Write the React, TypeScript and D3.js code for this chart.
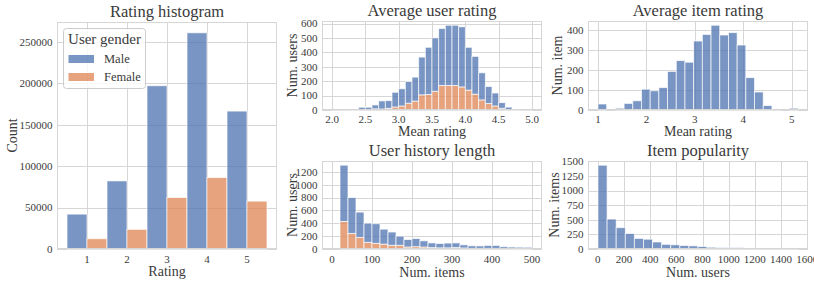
import React from 'react';
import * as d3 from 'd3';

// ---------- data ----------
const ratingCategories = [1, 2, 3, 4, 5];
const ratingMale = [42100, 82200, 197100, 261000, 166500];
const ratingFemale = [12400, 23700, 62100, 86200, 57800];

// Average user rating: 30 bins of width 0.1 from 2.0 to 5.0
const userRatingStart = 2.0;
const userRatingWidth = 0.1;
const userRatingMale = [1, 1, 1, 6, 16, 15, 27, 56, 53, 102, 119, 151, 166, 262, 327, 370, 395, 418, 418, 417, 297, 262, 188, 118, 90, 39, 16, 4, 2, 1];
const userRatingFemale = [0, 0, 0, 1, 3, 4, 8, 7, 12, 21, 28, 47, 62, 105, 108, 130, 170, 170, 170, 160, 138, 110, 70, 45, 28, 12, 4, 1, 0, 0];

// Average item rating: 23 bins from 1.0 to 5.13
const itemRatingStart = 1.0;
const itemRatingEnd = 5.13;
const itemRatingCounts = [30, 0, 9, 33, 46, 104, 96, 112, 193, 247, 239, 345, 378, 424, 375, 387, 325, 162, 90, 22, 1, 0, 9];

// User history length: bins of 20 from 0 to 500
const historyStart = 0;
const historyWidth = 20;
const historyMale = [0, 876, 556, 392, 298, 304, 233, 206, 142, 116, 126, 96, 73, 67, 74, 73, 49, 40, 38, 46, 46, 28, 25, 23, 22];
const historyFemale = [0, 428, 243, 182, 104, 89, 76, 58, 58, 31, 36, 31, 22, 18, 18, 22, 16, 10, 10, 10, 10, 7, 5, 5, 5];

// Item popularity: 22 bins from 1 to 1530
const popStart = 1;
const popEnd = 1530;
const popCounts = [1435, 512, 365, 264, 182, 168, 120, 80, 72, 60, 54, 42, 30, 25, 24, 22, 16, 12, 3, 13, 2, 3];

const ratingTicksY = [0, 50000, 100000, 150000, 200000, 250000];
const userRatingTicksX = [2.0, 2.5, 3.0, 3.5, 4.0, 4.5, 5.0];
const userRatingTicksY = [0, 100, 200, 300, 400, 500, 600];
const itemRatingTicksX = [1, 2, 3, 4, 5];
const itemRatingTicksY = [0, 100, 200, 300, 400];
const historyTicksX = [0, 100, 200, 300, 400, 500];
const historyTicksY = [0, 200, 400, 600, 800, 1000, 1200];
const popTicksX = [0, 200, 400, 600, 800, 1000, 1200, 1400, 1600];
const popTicksY = [0, 250, 500, 750, 1000, 1250, 1500];

// ---------- style ----------
const FONT = '"Liberation Serif", "DejaVu Serif", serif';
const BLUE = '#4c72b0';
const ORANGE = '#dd8452';
const TEXT = '#3a3a3a';
const GRID = '#d6d6d6';

type Bar = { x0: number; x1: number; y0: number; y1: number; color: string };

type PanelProps = {
  l: number; r: number; t: number; b: number;
  xDomain: [number, number];
  yMax: number;
  xTicks: number[]; yTicks: number[];
  xFmt: (v: number) => string;
  title: string; xLabel: string; yLabel: string;
  titleY: number; xTickY: number; xLabelY: number; yLabelX: number;
  bars: Bar[];
  children?: React.ReactNode;
};

function Panel(p: PanelProps) {
  const x = d3.scaleLinear().domain(p.xDomain).range([p.l, p.r]);
  const y = d3.scaleLinear().domain([0, p.yMax]).range([p.b, p.t]);
  const cx = (p.l + p.r) / 2;
  const cy = (p.t + p.b) / 2;
  return (
    <g>
      {p.xTicks.map((v) => (
        <line key={'gx' + v} x1={Math.round(x(v)) + 0.5} x2={Math.round(x(v)) + 0.5} y1={p.t} y2={p.b} stroke={GRID} strokeWidth={1} />
      ))}
      {p.yTicks.map((v) => (
        <line key={'gy' + v} x1={p.l} x2={p.r} y1={Math.round(y(v)) + 0.5} y2={Math.round(y(v)) + 0.5} stroke={GRID} strokeWidth={1} />
      ))}
      {p.bars.filter((bb) => bb.y1 > bb.y0).map((bb, i) => (
        <rect key={'b' + i} x={x(bb.x0)} y={y(bb.y1)} width={x(bb.x1) - x(bb.x0)} height={y(bb.y0) - y(bb.y1)}
          fill={bb.color} fillOpacity={0.75} stroke="#ffffff" strokeOpacity={0.75} strokeWidth={0.9} />
      ))}
      <rect x={p.l + 0.5} y={p.t + 0.5} width={p.r - p.l - 1} height={p.b - p.t - 1} fill="none" stroke={GRID} strokeWidth={1} />
      {p.xTicks.map((v) => (
        <text key={'tx' + v} x={x(v)} y={p.xTickY} textAnchor="middle" fontSize={11} fill={TEXT}>{p.xFmt(v)}</text>
      ))}
      {p.yTicks.map((v) => (
        <text key={'ty' + v} x={p.l - 4.5} y={y(v)} dy="0.35em" textAnchor="end" fontSize={11} fill={TEXT}>{String(v)}</text>
      ))}
      <text x={cx} y={p.titleY} textAnchor="middle" fontSize={16.5} fill={TEXT}>{p.title}</text>
      <text x={cx} y={p.xLabelY} textAnchor="middle" fontSize={14} fill={TEXT}>{p.xLabel}</text>
      <text transform={`translate(${p.yLabelX},${cy}) rotate(-90)`} textAnchor="middle" fontSize={14} fill={TEXT}>{p.yLabel}</text>
      {p.children}
    </g>
  );
}

function stackedBins(start: number, width: number, lower: number[], upper: number[]): Bar[] {
  const out: Bar[] = [];
  lower.forEach((v, i) => {
    const x0 = start + i * width;
    out.push({ x0, x1: x0 + width, y0: 0, y1: v, color: ORANGE });
    out.push({ x0, x1: x0 + width, y0: v, y1: v + upper[i], color: BLUE });
  });
  return out;
}

function singleBins(start: number, width: number, vals: number[]): Bar[] {
  return vals.map((v, i) => ({ x0: start + i * width, x1: start + (i + 1) * width, y0: 0, y1: v, color: BLUE }));
}

function margin(a: number, b: number): [number, number] {
  const m = (b - a) * 0.05;
  return [a - m, b + m];
}

export default function App() {
  // panel 1
  const ratingBars: Bar[] = [];
  ratingCategories.forEach((c, i) => {
    ratingBars.push({ x0: c - 0.5, x1: c, y0: 0, y1: ratingMale[i], color: BLUE });
    ratingBars.push({ x0: c, x1: c + 0.5, y0: 0, y1: ratingFemale[i], color: ORANGE });
  });
  const ratingMax = Math.max(...ratingMale, ...ratingFemale) * 1.05;

  const urBars = stackedBins(userRatingStart, userRatingWidth, userRatingFemale, userRatingMale);
  const urMax = d3.max(userRatingMale.map((v, i) => v + userRatingFemale[i]))! * 1.05;
  const urEnd = userRatingStart + userRatingWidth * userRatingMale.length;

  const irWidth = (itemRatingEnd - itemRatingStart) / itemRatingCounts.length;
  const irBars = singleBins(itemRatingStart, irWidth, itemRatingCounts);
  const irMax = d3.max(itemRatingCounts)! * 1.05;

  const hBars = stackedBins(historyStart, historyWidth, historyFemale, historyMale);
  const hMax = d3.max(historyMale.map((v, i) => v + historyFemale[i]))! * 1.05;
  const hEnd = historyStart + historyWidth * historyMale.length;

  const pWidth = (popEnd - popStart) / popCounts.length;
  const pBars = singleBins(popStart, pWidth, popCounts);
  const pMax = d3.max(popCounts)! * 1.05;

  const fmtInt = (v: number) => String(v);

  return (
    <svg width={814} height={285} style={{ position: 'absolute', left: 0, top: 0, fontFamily: FONT, background: '#fff' }}>
      <rect x={0} y={0} width={814} height={285} fill="#fff" />
      <Panel l={57} r={277} t={22} b={249} xDomain={margin(0.5, 5.5)} yMax={ratingMax}
        xTicks={ratingCategories} yTicks={ratingTicksY} xFmt={fmtInt}
        title="Rating histogram" xLabel="Rating" yLabel="Count"
        titleY={17} xTickY={263} xLabelY={275.5} yLabelX={16.5} bars={ratingBars}>
        <g>
          <rect x={63.5} y={28.5} width={82} height={60} rx={3} fill="#fff" fillOpacity={0.8} stroke="#cccccc" strokeWidth={1} />
          <text x={104.5} y={43.5} textAnchor="middle" fontSize={15} fill={TEXT}>User gender</text>
          <rect x={68.5} y={55} width={25.5} height={8} fill={BLUE} fillOpacity={0.75} />
          <rect x={68.5} y={73} width={25.5} height={8} fill={ORANGE} fillOpacity={0.75} />
          <text x={104} y={62.5} fontSize={12.5} fill={TEXT}>Male</text>
          <text x={104} y={80.5} fontSize={12.5} fill={TEXT}>Female</text>
        </g>
      </Panel>
      <Panel l={322} r={542} t={21} b={110} xDomain={margin(userRatingStart, urEnd)} yMax={urMax}
        xTicks={userRatingTicksX} yTicks={userRatingTicksY} xFmt={d3.format('.1f')}
        title="Average user rating" xLabel="Mean rating" yLabel="Num. users"
        titleY={16} xTickY={122.5} xLabelY={135.5} yLabelX={297} bars={urBars} />
      <Panel l={588} r={808} t={21} b={110} xDomain={margin(itemRatingStart, itemRatingEnd)} yMax={irMax}
        xTicks={itemRatingTicksX} yTicks={itemRatingTicksY} xFmt={fmtInt}
        title="Average item rating" xLabel="Mean rating" yLabel="Num. item"
        titleY={16} xTickY={122.5} xLabelY={135.5} yLabelX={562} bars={irBars} />
      <Panel l={322} r={542} t={161} b={249} xDomain={margin(historyStart, hEnd)} yMax={hMax}
        xTicks={historyTicksX} yTicks={historyTicksY} xFmt={fmtInt}
        title="User history length" xLabel="Num. items" yLabel="Num. users"
        titleY={155.5} xTickY={262.5} xLabelY={276.5} yLabelX={297} bars={hBars} />
      <Panel l={588} r={808} t={161} b={249} xDomain={margin(popStart, popEnd)} yMax={pMax}
        xTicks={popTicksX} yTicks={popTicksY} xFmt={fmtInt}
        title="Item popularity" xLabel="Num. users" yLabel="Num. items"
        titleY={155.5} xTickY={262.5} xLabelY={276.5} yLabelX={559} bars={pBars} />
    </svg>
  );
}
